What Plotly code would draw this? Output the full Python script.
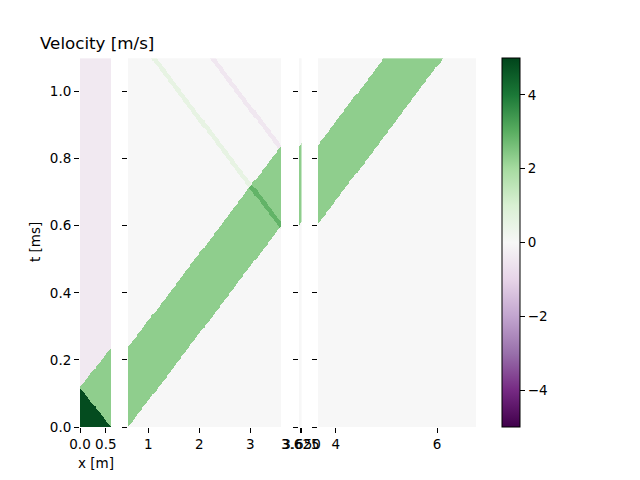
import numpy as np
import plotly.graph_objects as go

# ---------------- data ----------------
# x extent of each pipe section [m] and time range [ms]
pipe_x_ranges = [[0.0, 0.6], [0.6, 3.6], [3.6, 3.65], [3.65, 6.77]]
t_range = [0.0, 1.1]

# velocity levels of each region [m/s]
v_initial = 4.85      # dark green start triangle
v_front = 2.3         # main travelling wave
v_left_after = -0.4   # pipe 1 after the wave passed
v_ambient = 0.0
v_refl_pos = 0.55     # faint reflected wave (green)
v_refl_neg = -0.45    # faint reflected wave (pink)
v_overlap = 2.9       # reflected wave inside the main wave

# wave fronts: (x_ref [m], t_ref [ms], dt/dx [ms/m])
front_p1_tail = (0.6, 0.0, -0.198)
front_p1_head = (0.0, 0.119, 0.198)
front_p2_low = (0.6, 0.0, 0.2)
front_p2_high = (0.6, 0.238, 0.2)
refl_green = (1.1, 1.1, -0.2)
refl_pink = (2.25, 1.1, -0.2)
front_p3_low = (3.6, 0.602, 0.2)
front_p3_high = (3.6, 0.838, 0.2)
front_p4_low = (3.65, 0.605, 0.2)
front_p4_high = (3.65, 0.84, 0.2)
refl_half_width = 0.011  # ms

# tick labels
y_ticks = [0.0, 0.2, 0.4, 0.6, 0.8, 1.0]
x_ticks = [[0.0, 0.5], [1, 2, 3], [3.625, 3.65], [4, 6]]
x_tick_text = [["0.0", "0.5"], ["1", "2", "3"], ["3.625", "3.650"], ["4", "6"]]
cbar_ticks = [-4, -2, 0, 2, 4]
cbar_text = ["\u22124", "\u22122", "0", "2", "4"]
cells_x = [0.02, 0.02, 0.005, 0.02]
cell_t = 0.0033


def line_t(front, x):
    x0, t0, s = front
    return t0 + s * (x - x0)


def grid(i):
    x0, x1 = pipe_x_ranges[i]
    dx = cells_x[i]
    xs = np.arange(x0 + dx / 2, x1, dx)
    ts = np.arange(t_range[0] + cell_t / 2, t_range[1], cell_t)
    X, T = np.meshgrid(xs, ts)
    return xs, ts, X, T


fields = []
# pipe 1
xs, ts, X, T = grid(0)
Z = np.full(X.shape, v_left_after)
Z[T < line_t(front_p1_head, X)] = v_front
Z[T < line_t(front_p1_tail, X)] = v_initial
fields.append((xs, ts, Z))
# pipe 2
xs, ts, X, T = grid(1)
Z = np.full(X.shape, v_ambient)
band = (T >= line_t(front_p2_low, X)) & (T < line_t(front_p2_high, X))
Z[band] = v_front
g = np.abs(T - line_t(refl_green, X)) < refl_half_width
p = np.abs(T - line_t(refl_pink, X)) < refl_half_width
Z[g & ~band] = v_refl_pos
Z[g & band] = v_overlap
Z[p & ~band] = v_refl_neg
fields.append((xs, ts, Z))
# pipe 3
xs, ts, X, T = grid(2)
Z = np.full(X.shape, v_ambient)
Z[(T >= line_t(front_p3_low, X)) & (T < line_t(front_p3_high, X))] = v_front
fields.append((xs, ts, Z))
# pipe 4
xs, ts, X, T = grid(3)
Z = np.full(X.shape, v_ambient)
Z[(T >= line_t(front_p4_low, X)) & (T < line_t(front_p4_high, X))] = v_front
fields.append((xs, ts, Z))

W, H = 640, 480
x_dom_px = [[80, 111], [128, 281], [299, 301.5], [318, 476]]
y_top_px, y_bot_px = 58, 427
y_dom = [(H - y_bot_px) / H, (H - y_top_px) / H]

FONT = "DejaVu Sans"
tickfont = dict(family=FONT, size=13.5, color="black")

fig = go.Figure()
for i, (xs, ts, Z) in enumerate(fields):
    suf = "" if i == 0 else str(i + 1)
    fig.add_trace(go.Heatmap(
        x=xs, y=ts, z=Z, colorscale="PRGn", zmin=-5, zmax=5,
        zsmooth=False, xaxis="x" + suf, yaxis="y" + suf,
        showscale=(i == 0), hoverinfo="skip",
        colorbar=dict(
            x=502 / W, xanchor="left", xref="paper",
            y=(y_dom[0] + y_dom[1]) / 2, yanchor="middle", yref="paper",
            len=(y_bot_px - y_top_px) / H, lenmode="fraction",
            thickness=18, thicknessmode="pixels",
            outlinewidth=1, outlinecolor="black",
            ticks="outside", ticklen=5, tickwidth=1, tickcolor="black",
            tickvals=cbar_ticks, ticktext=cbar_text,
            tickfont=tickfont, xpad=0, ypad=0,
        ) if i == 0 else None,
    ))

layout = dict(
    width=W, height=H, autosize=False,
    margin=dict(l=0, r=0, t=0, b=0, autoexpand=False),
    paper_bgcolor="white", plot_bgcolor="white",
    showlegend=False,
)
for i in range(4):
    suf = "" if i == 0 else str(i + 1)
    layout["xaxis" + suf] = dict(
        domain=[x_dom_px[i][0] / W, x_dom_px[i][1] / W],
        range=pipe_x_ranges[i], anchor="y" + suf, automargin=False,
        showgrid=False, zeroline=False, showline=False,
        ticks="outside", ticklen=5, tickwidth=1, tickcolor="black",
        tickvals=x_ticks[i], ticktext=x_tick_text[i], tickfont=tickfont,
        tickangle=0,
    )
    ya = dict(
        domain=y_dom, range=t_range, anchor="x" + suf, automargin=False,
        showgrid=False, zeroline=False, showline=False,
        ticks="outside", ticklen=5, tickwidth=1, tickcolor="black",
        tickvals=y_ticks, ticktext=["%.1f" % v for v in y_ticks],
        tickfont=tickfont, showticklabels=(i == 0),
    )
    if i > 0:
        ya["matches"] = "y"
    layout["yaxis" + suf] = ya
fig.update_layout(**layout)

fig.add_annotation(text="Velocity [m/s]", x=38 / W, y=(H - 43) / H,
                   xref="paper", yref="paper", xanchor="left", yanchor="middle",
                   showarrow=False, font=dict(family=FONT, size=16.7, color="black"))
fig.add_annotation(text="t [ms]", x=35 / W, y=(H - 242) / H, textangle=-90,
                   xref="paper", yref="paper", xanchor="center", yanchor="middle",
                   showarrow=False, font=dict(family=FONT, size=13.5, color="black"))
fig.add_annotation(text="x [m]", x=95.5 / W, y=(H - 463) / H,
                   xref="paper", yref="paper", xanchor="center", yanchor="middle",
                   showarrow=False, font=dict(family=FONT, size=13.5, color="black"))

fig.write_html("out.html")
